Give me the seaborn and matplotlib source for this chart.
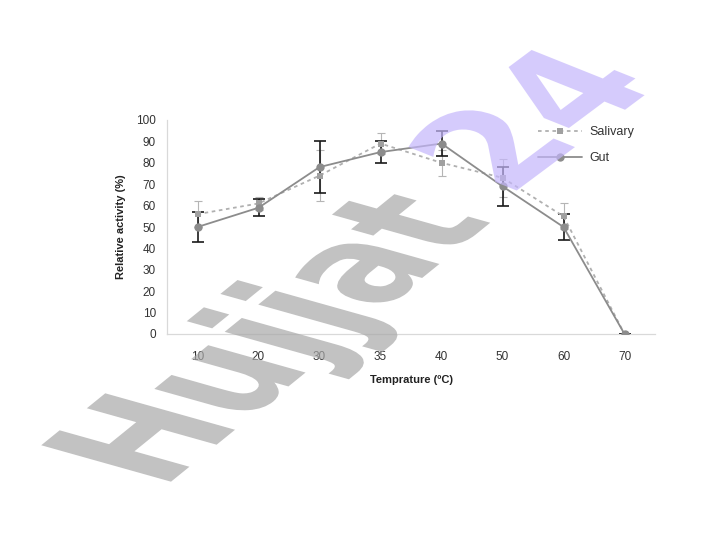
import numpy as np
import pandas as pd
import matplotlib
matplotlib.use("Agg")
import matplotlib.pyplot as plt
import seaborn as sns
from matplotlib.textpath import TextPath
from matplotlib.patches import PathPatch
from matplotlib.font_manager import FontProperties
from matplotlib.transforms import Affine2D

# ---- data ----
temps = ["10", "20", "30", "35", "40", "50", "60", "70"]
salivary = [56, 61, 74, 89, 80, 73, 55, 0]
salivary_err = [6, 3, 12, 5, 6, 9, 6, 0]
gut = [50, 59, 78, 85, 89, 69, 50, 0]
gut_err = [7, 4, 12, 5, 6, 9, 6, 0]

sns.set_style("white")
plt.rcParams["font.family"] = ["Liberation Sans", "DejaVu Sans"]

df = pd.DataFrame({"pos": np.arange(len(temps)), "Salivary": salivary, "Gut": gut})

fig = plt.figure(figsize=(7.2, 5.4), dpi=100)
ax = fig.add_axes([167 / 720, 1 - 334 / 540, (655 - 167) / 720, (334 - 120) / 540])

# error bars first so the markers sit on top
ax.errorbar(df["pos"], salivary, yerr=salivary_err, fmt="none", ecolor="#b5b5b5",
            elinewidth=0.8, capsize=3, capthick=0.8, zorder=2)
ax.errorbar(df["pos"], gut, yerr=gut_err, fmt="none", ecolor="#1a1a1a",
            elinewidth=1.2, capsize=4, capthick=1.2, zorder=2)

sns.lineplot(data=df, x="pos", y="Salivary", ax=ax, color="#b0b0b0", lw=1.3,
             linestyle=(0, (2, 2)), marker="s", markersize=5, markeredgewidth=0,
             markerfacecolor="#a0a0a0", label="Salivary", zorder=3)
sns.lineplot(data=df, x="pos", y="Gut", ax=ax, color="#8c8c8c", lw=1.3,
             marker="o", markersize=6, markeredgewidth=0,
             markerfacecolor="#8c8c8c", label="Gut", zorder=4)

ax.set_xlim(-0.5, len(temps) - 0.5)
ax.set_ylim(0, 100)
ax.set_xticks(df["pos"])
ax.set_xticklabels(temps)
ax.set_xticks(np.arange(-0.5, len(temps)), minor=True)
ax.set_yticks(np.arange(0, 101, 10))
ax.tick_params(axis="x", which="major", length=0, pad=12, labelsize=8.5, labelcolor="#333333")
ax.tick_params(axis="x", which="minor", length=4, color="#d9d9d9", width=0.8)
ax.tick_params(axis="y", length=3, color="#d9d9d9", pad=5, labelsize=8.5, labelcolor="#333333")
for side in ["top", "right"]:
    ax.spines[side].set_visible(False)
for side in ["left", "bottom"]:
    ax.spines[side].set_color("#d9d9d9")
    ax.spines[side].set_linewidth(0.9)

ax.set_xlabel("Temprature (ºC)", fontsize=8, fontweight="bold", color="#222222")
ax.set_ylabel("Relative activity (%)", fontsize=8, fontweight="bold", color="#222222")
ax.xaxis.set_label_coords(0.5, -0.19)
ax.yaxis.set_label_coords(-0.084, 0.5)

ax.legend(loc="upper left", bbox_to_anchor=(538 / 720, (540 - 126) / 540),
          bbox_transform=fig.transFigure, frameon=False, fontsize=9,
          handlelength=3.5, handletextpad=0.6, labelspacing=1.15,
          borderpad=0, borderaxespad=0, labelcolor="#333333")

# ---- watermark "Hujjat24", skewed diagonal overlay ----
fp = FontProperties(family="DejaVu Sans", weight="bold")
p_word = TextPath((0, 0), "Hujjat", size=1, prop=fp)
p_num = TextPath((0, 0), "24", size=1, prop=fp)

# columns: glyph-x direction, glyph-y direction, origin (figure pixels)
word_tr = Affine2D(np.array([[98, -178, 162], [79.5, 50, 51], [0, 0, 1]]))
num_tr = Affine2D(np.array([[110, -155, 508], [82, 62, 343], [0, 0, 1]]))

fig.add_artist(PathPatch(p_word, transform=word_tr, facecolor="#a8a8a8", edgecolor="none",
                         alpha=0.7, zorder=10))
fig.add_artist(PathPatch(p_num, transform=num_tr, facecolor="#c4b6fb", edgecolor="none",
                         alpha=0.7, zorder=10))

fig.savefig("out.png", dpi=100)
